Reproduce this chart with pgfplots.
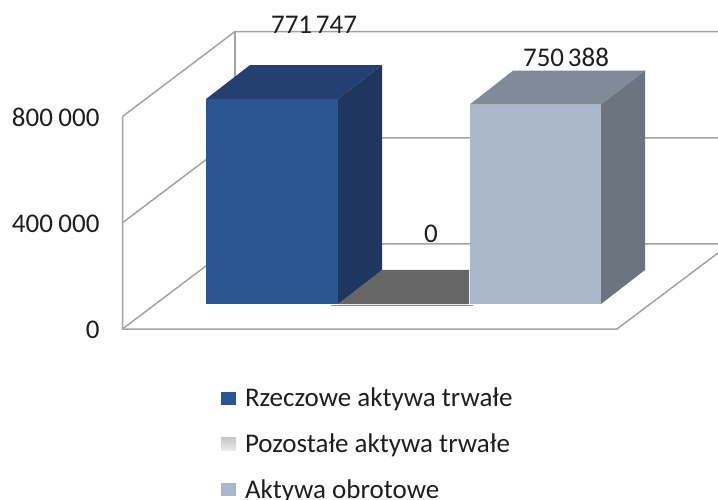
\documentclass[border=0pt]{standalone}
\usepackage{fontspec}
\setmainfont{Carlito}
\usepackage{pgfplots}
\pgfplotsset{compat=1.18}
\definecolor{frontA}{HTML}{2C5593}
\definecolor{topA}{HTML}{234070}
\definecolor{sideA}{HTML}{1F365F}
\definecolor{frontC}{HTML}{ABB7CB}
\definecolor{topC}{HTML}{808B99}
\definecolor{sideC}{HTML}{6C7480}
\definecolor{floorB}{HTML}{666666}
\definecolor{gridc}{HTML}{A3A3A3}
\definecolor{txt}{HTML}{1E1E1E}
\begin{document}
\begin{tikzpicture}
\path[use as bounding box] (0,0) rectangle (718pt,499pt);
\clip (0,0) rectangle (718pt,499pt);
% walls, scale: 0 at the front edge of the floor
\begin{axis}[
  at={(0,0)}, anchor=south west, scale only axis,
  width=718pt, height=499pt,
  xmin=0, xmax=718, ymin=-640060, ymax=1238705,
  axis x line=none, axis y line=left, xtick=\empty,
  axis line style={draw=none}, major tick length=0pt,
  ytick={0,400000,800000}, scaled y ticks=false,
  yticklabels={0,400\hspace{0.2em}000,800\hspace{0.2em}000},
  clip=false,
  yticklabel style={anchor=east, xshift=103pt, yshift=-1pt, font=\fontsize{27}{27}\selectfont, text=txt},
]
\addplot[gridc, line width=1.5pt] coordinates {(122.5,800000)(235,1120030)(718,1120030)};
\addplot[gridc, line width=1.5pt] coordinates {(122.5,400000)(235,720030)(718,720030)};
\addplot[gridc, line width=1.5pt] coordinates {(122.5,0)(235,320030)(718,320030)};
\addplot[gridc, line width=1.5pt] coordinates {(122.5,800000)(122.5,0)(617,0)(718,286145)};
\addplot[gridc, line width=1.5pt] coordinates {(235,1120030)(235,320030)};
\end{axis}
% bars, scale: 0 at the foot of the bars' front faces
\begin{axis}[
  at={(0,0)}, anchor=south west, scale only axis,
  width=718pt, height=499pt,
  xmin=0, xmax=718, ymin=-734187, ymax=1144578,
  hide axis, clip=false,
  legend style={at={(221pt,113pt)}, anchor=north west, draw=none, fill=none,
    font=\fontsize{27}{27}\selectfont, text=txt, inner sep=0pt, outer sep=0pt, row sep=21.6pt},
  legend cell align=left,
  legend image code/.code={\fill[#1] (3pt,-6.5pt) rectangle (18pt,6.5pt); \path (25pt,0);},
]
% grey zero-height bar
\addplot[fill=floorB, draw=none, forget plot] coordinates {(338,0)(382,128012)(469,128012)(469,0)} -- cycle;
\addplot[fill=black!45, draw=none, forget plot] coordinates {(331,-3000)(473,-3000)(473,-8000)(331,-8000)} -- cycle;
% first bar
\addplot[fill=topA, draw=none, forget plot] coordinates {(206,771747)(250,899759)(382,899759)(338,771747)} -- cycle;
\addplot[fill=sideA, draw=none, forget plot] coordinates {(338,0)(382,128012)(382,899759)(338,771747)} -- cycle;
% third bar
\addplot[fill=topC, draw=none, forget plot] coordinates {(469.5,750388)(513,878400)(645,878400)(601,750388)} -- cycle;
\addplot[fill=sideC, draw=none, forget plot] coordinates {(601,0)(645,128012)(645,878400)(601,750388)} -- cycle;
% front faces and legend
\addplot[fill=frontA, draw=none] coordinates {(206,0)(338,0)(338,771747)(206,771747)} -- cycle;
\addlegendentry{Rzeczowe aktywa trwałe}
\addplot[fill=frontC, draw=none, forget plot] coordinates {(469.5,0)(601,0)(601,750388)(469.5,750388)} -- cycle;
\addlegendimage{draw=none, legend image code/.code={\shade[draw=none, top color=black!22, bottom color=black!8] (3pt,-6.5pt) rectangle (18pt,6.5pt); \path (25pt,0);}}
\addlegendentry{Pozostałe aktywa trwałe}
\addlegendimage{fill=frontC, draw=none}
\addlegendentry{Aktywa obrotowe}
\node[text=txt, font=\fontsize{27}{27}\selectfont] at (axis cs:314,1050452) {771\hspace{0.14em}747};
\node[text=txt, font=\fontsize{27}{27}\selectfont] at (axis cs:566,929970) {750\hspace{0.14em}388};
\node[text=txt, font=\fontsize{27}{27}\selectfont] at (axis cs:431,263554) {0};
\end{axis}
\end{tikzpicture}
\end{document}
